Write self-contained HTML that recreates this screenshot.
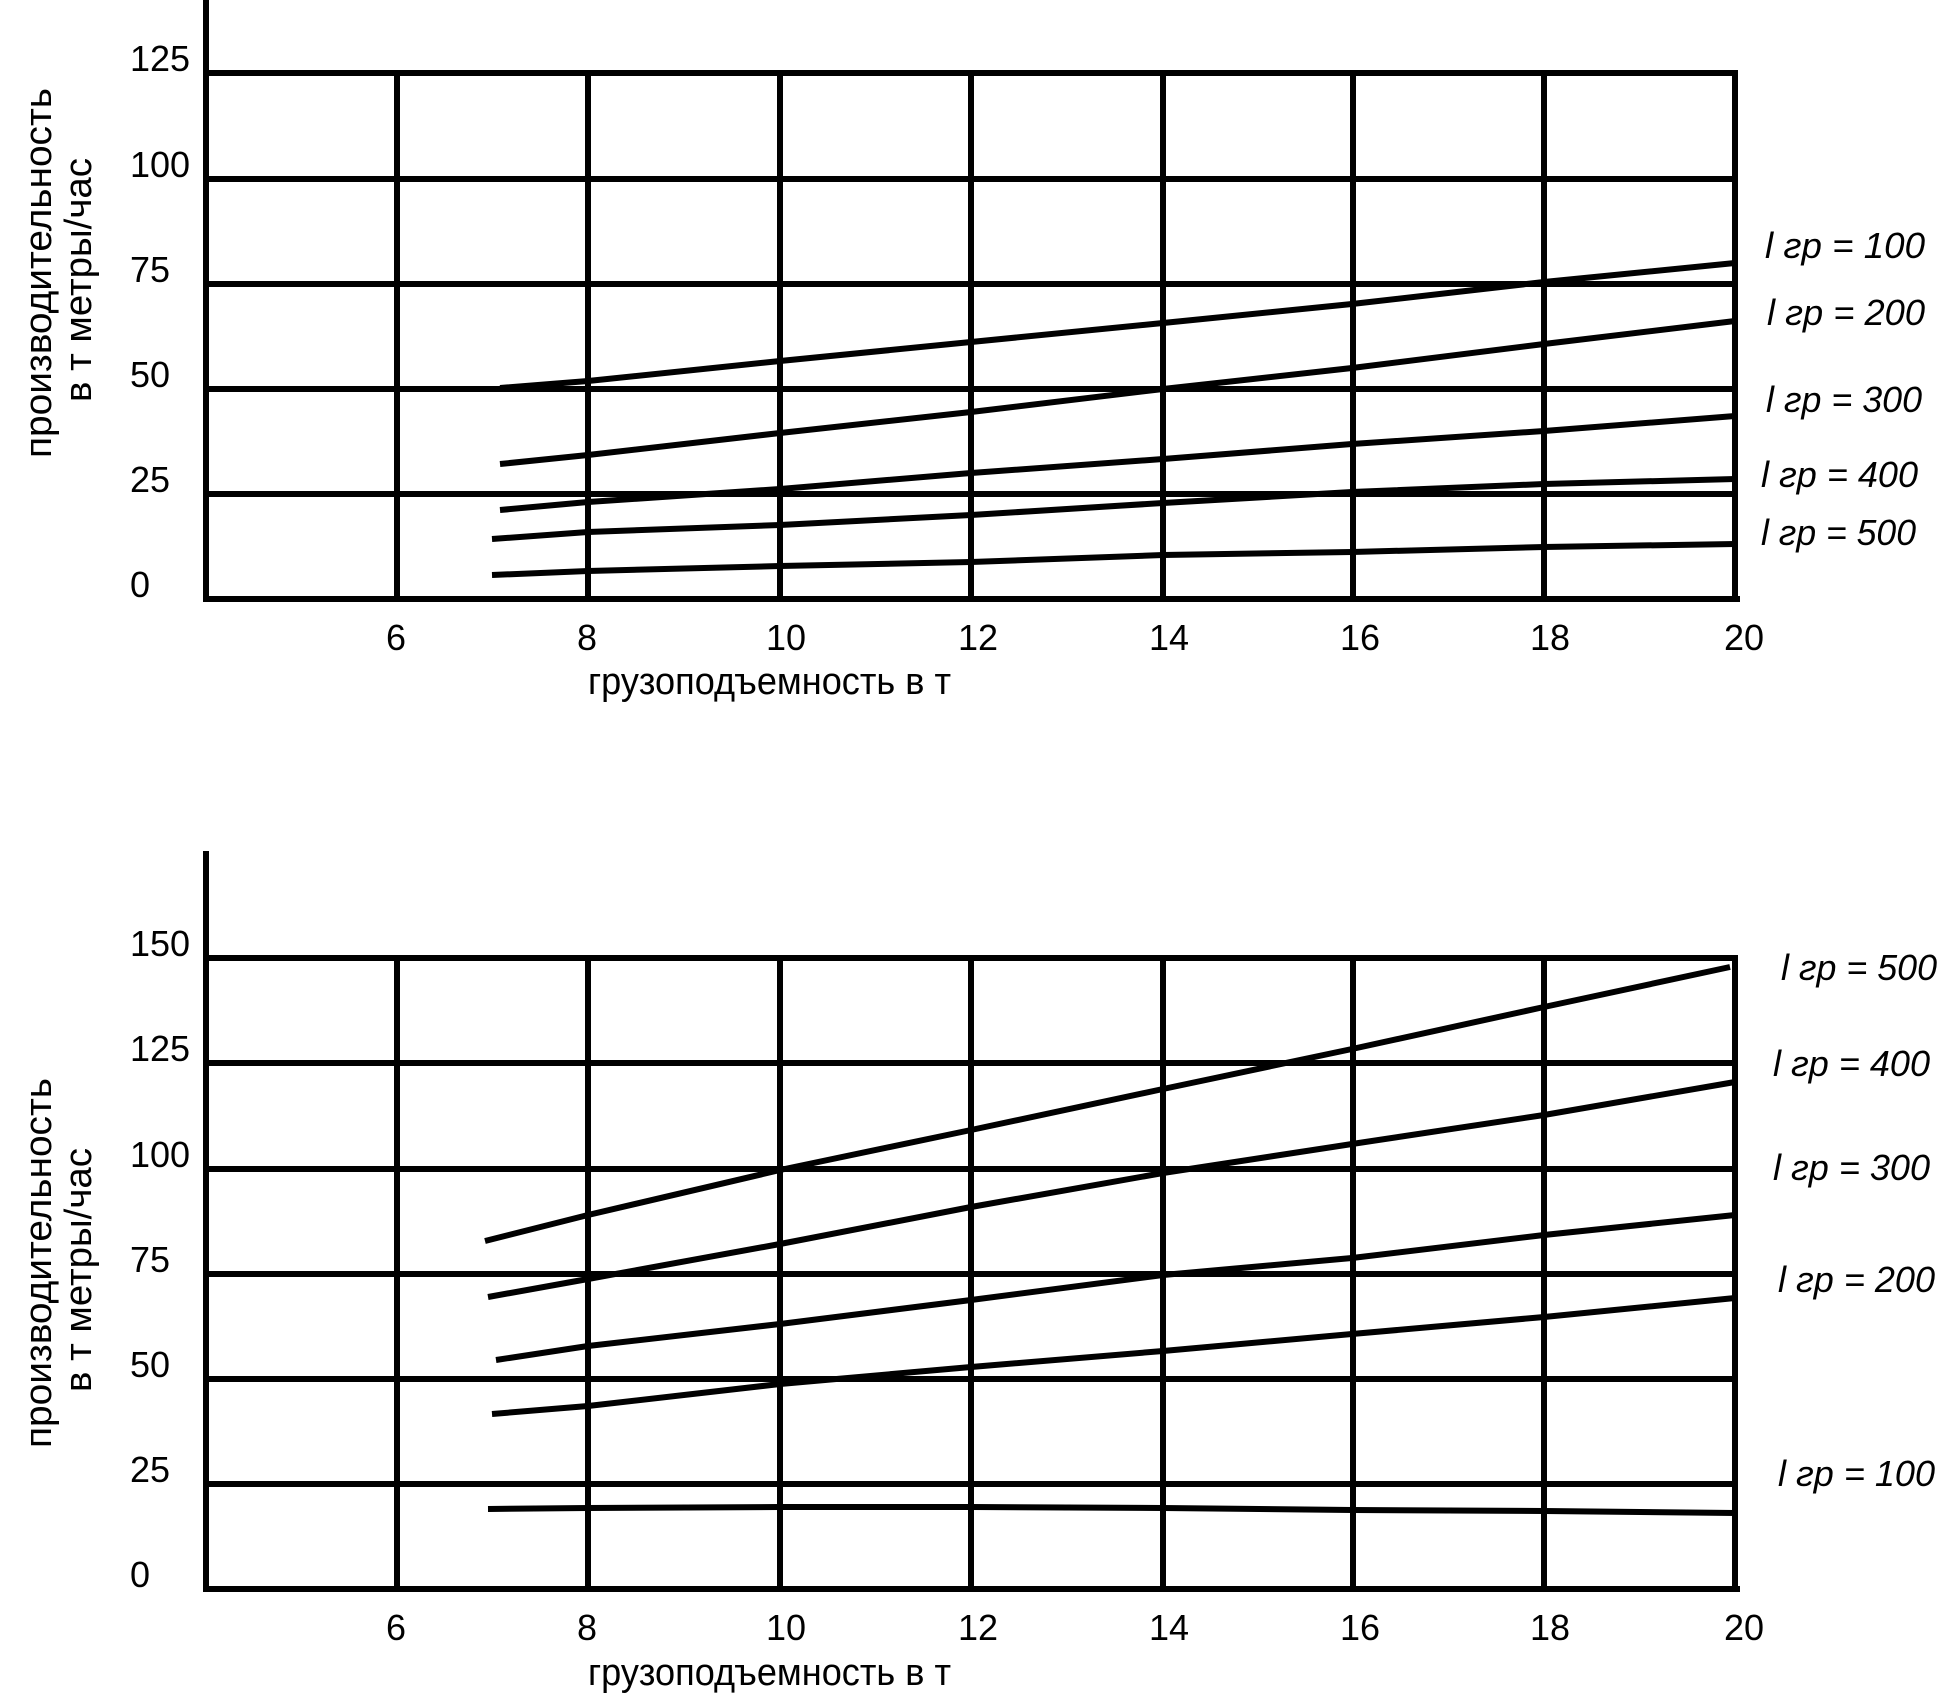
<!DOCTYPE html>
<html>
<head>
<meta charset="utf-8">
<style>
  html, body { margin: 0; padding: 0; background: #fff; }
  svg { display: block; }
  text { font-family: "Liberation Sans", "DejaVu Sans", sans-serif; fill: #000; }
  .tick { font-size: 36px; }
  .title { font-size: 38px; }
  .leg { font-size: 36px; font-style: italic; }
</style>
</head>
<body>
<svg width="1943" height="1704" viewBox="0 0 1943 1704" xmlns="http://www.w3.org/2000/svg">
  <rect x="0" y="0" width="1943" height="1704" fill="#fff"/>

  <!-- ================= TOP CHART ================= -->
  <g stroke="#000" stroke-width="6" fill="none">
    <line x1="206" y1="73" x2="1738" y2="73"/>
    <line x1="206" y1="179" x2="1738" y2="179"/>
    <line x1="206" y1="284" x2="1738" y2="284"/>
    <line x1="206" y1="389" x2="1738" y2="389"/>
    <line x1="206" y1="494" x2="1738" y2="494"/>
    <line x1="397" y1="73" x2="397" y2="599"/>
    <line x1="588" y1="73" x2="588" y2="599"/>
    <line x1="780" y1="73" x2="780" y2="599"/>
    <line x1="971" y1="73" x2="971" y2="599"/>
    <line x1="1163" y1="73" x2="1163" y2="599"/>
    <line x1="1353" y1="73" x2="1353" y2="599"/>
    <line x1="1544" y1="73" x2="1544" y2="599"/>
    <line x1="1735" y1="70" x2="1735" y2="599"/>
    <line x1="206" y1="0" x2="206" y2="602"/>
    <line x1="203" y1="599" x2="1740" y2="599"/>
  </g>
  <g stroke="#000" stroke-width="6" fill="none" stroke-linejoin="round">
    <polyline points="500,388 588,381 780,361 971,342 1163,323 1352,304 1544,282 1735,263"/>
    <polyline points="500,464 588,455 780,433 971,412 1163,389 1352,368 1544,344 1735,321"/>
    <polyline points="500,510 588,502 780,489 971,473 1163,459 1352,444 1544,431 1735,416"/>
    <polyline points="492,539 588,532 780,525 971,515 1163,503 1352,492 1544,484 1735,479"/>
    <polyline points="492,575 588,571 780,566 971,562 1163,555 1352,552 1544,547 1735,544"/>
  </g>
  <g class="tick">
    <text x="130" y="71">125</text>
    <text x="130" y="177">100</text>
    <text x="130" y="282">75</text>
    <text x="130" y="387">50</text>
    <text x="130" y="492">25</text>
    <text x="130" y="597">0</text>
  </g>
  <g class="tick" text-anchor="middle">
    <text x="396" y="650">6</text>
    <text x="587" y="650">8</text>
    <text x="786" y="650">10</text>
    <text x="978" y="650">12</text>
    <text x="1169" y="650">14</text>
    <text x="1360" y="650">16</text>
    <text x="1550" y="650">18</text>
    <text x="1744" y="650">20</text>
  </g>
  <text class="title" x="588" y="694" textLength="363" lengthAdjust="spacingAndGlyphs">грузоподъемность в т</text>
  <text class="title" transform="translate(51,273) rotate(-90)" text-anchor="middle" textLength="370" lengthAdjust="spacingAndGlyphs">производительность</text>
  <text class="title" transform="translate(91,280) rotate(-90)" text-anchor="middle" textLength="244" lengthAdjust="spacingAndGlyphs">в т метры/час</text>
  <g class="leg">
    <text x="1765" y="258" textLength="160" lengthAdjust="spacingAndGlyphs">l гр = 100</text>
    <text x="1767" y="325" textLength="158" lengthAdjust="spacingAndGlyphs">l гр = 200</text>
    <text x="1766" y="412" textLength="156" lengthAdjust="spacingAndGlyphs">l гр = 300</text>
    <text x="1761" y="487" textLength="157" lengthAdjust="spacingAndGlyphs">l гр = 400</text>
    <text x="1761" y="545" textLength="155" lengthAdjust="spacingAndGlyphs">l гр = 500</text>
  </g>

  <!-- ================= BOTTOM CHART ================= -->
  <g stroke="#000" stroke-width="6" fill="none">
    <line x1="206" y1="958" x2="1738" y2="958"/>
    <line x1="206" y1="1063" x2="1738" y2="1063"/>
    <line x1="206" y1="1169" x2="1738" y2="1169"/>
    <line x1="206" y1="1274" x2="1738" y2="1274"/>
    <line x1="206" y1="1379" x2="1738" y2="1379"/>
    <line x1="206" y1="1484" x2="1738" y2="1484"/>
    <line x1="397" y1="958" x2="397" y2="1589"/>
    <line x1="588" y1="958" x2="588" y2="1589"/>
    <line x1="780" y1="958" x2="780" y2="1589"/>
    <line x1="971" y1="958" x2="971" y2="1589"/>
    <line x1="1163" y1="958" x2="1163" y2="1589"/>
    <line x1="1353" y1="958" x2="1353" y2="1589"/>
    <line x1="1544" y1="958" x2="1544" y2="1589"/>
    <line x1="1735" y1="955" x2="1735" y2="1589"/>
    <line x1="206" y1="851" x2="206" y2="1592"/>
    <line x1="203" y1="1589" x2="1740" y2="1589"/>
  </g>
  <g stroke="#000" stroke-width="6" fill="none" stroke-linejoin="round">
    <polyline points="485,1241 588,1215 780,1170 971,1130 1163,1089 1352,1049 1544,1007 1730,967"/>
    <polyline points="488,1297 588,1279 780,1244 971,1207 1163,1173 1352,1144 1544,1115 1735,1082"/>
    <polyline points="496,1360 588,1346 780,1324 971,1300 1163,1275 1352,1258 1544,1235 1735,1215"/>
    <polyline points="492,1414 588,1406 780,1384 971,1367 1163,1351 1352,1334 1544,1317 1735,1298"/>
    <polyline points="488,1509 588,1508 780,1507 971,1507 1163,1508 1352,1510 1544,1511 1735,1513"/>
  </g>
  <g class="tick">
    <text x="130" y="956">150</text>
    <text x="130" y="1061">125</text>
    <text x="130" y="1167">100</text>
    <text x="130" y="1272">75</text>
    <text x="130" y="1377">50</text>
    <text x="130" y="1482">25</text>
    <text x="130" y="1587">0</text>
  </g>
  <g class="tick" text-anchor="middle">
    <text x="396" y="1640">6</text>
    <text x="587" y="1640">8</text>
    <text x="786" y="1640">10</text>
    <text x="978" y="1640">12</text>
    <text x="1169" y="1640">14</text>
    <text x="1360" y="1640">16</text>
    <text x="1550" y="1640">18</text>
    <text x="1744" y="1640">20</text>
  </g>
  <text class="title" x="588" y="1685" textLength="363" lengthAdjust="spacingAndGlyphs">грузоподъемность в т</text>
  <text class="title" transform="translate(51,1263) rotate(-90)" text-anchor="middle" textLength="370" lengthAdjust="spacingAndGlyphs">производительность</text>
  <text class="title" transform="translate(91,1270) rotate(-90)" text-anchor="middle" textLength="244" lengthAdjust="spacingAndGlyphs">в т метры/час</text>
  <g class="leg">
    <text x="1781" y="980" textLength="156" lengthAdjust="spacingAndGlyphs">l гр = 500</text>
    <text x="1773" y="1076" textLength="157" lengthAdjust="spacingAndGlyphs">l гр = 400</text>
    <text x="1773" y="1180" textLength="157" lengthAdjust="spacingAndGlyphs">l гр = 300</text>
    <text x="1778" y="1292" textLength="157" lengthAdjust="spacingAndGlyphs">l гр = 200</text>
    <text x="1778" y="1486" textLength="157" lengthAdjust="spacingAndGlyphs">l гр = 100</text>
  </g>
</svg>
</body>
</html>
